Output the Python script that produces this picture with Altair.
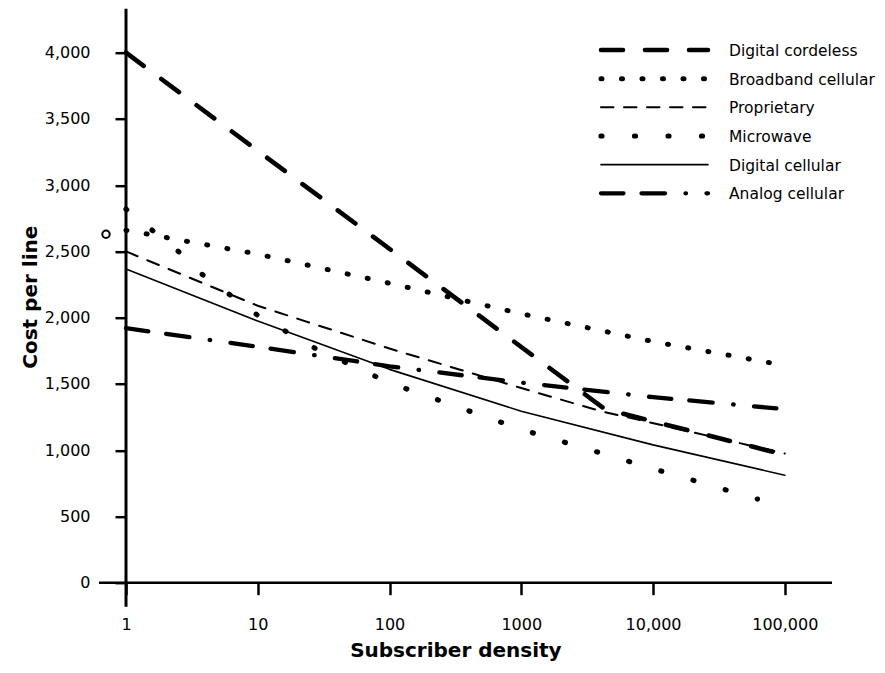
import altair as alt
import pandas as pd

FONT = "DejaVu Sans"

series_names = ["Digital cordeless", "Broadband cellular", "Proprietary",
                "Microwave", "Digital cellular", "Analog cellular"]

cordeless_density = [1, 4300, 100000]
cordeless_cost = [4000, 1310, 965]

broadband_density = [1, 10, 100, 1000, 10000, 100000]
broadband_cost = [2660, 2480, 2260, 2030, 1820, 1640]

proprietary_density = [1, 10, 100, 1000, 4000, 100000]
proprietary_cost = [2500, 2090, 1767, 1469, 1295, 975]

microwave_density = [1, 2.5, 3.75, 10, 27.5, 100, 1000, 10000, 62000]
microwave_cost = [2820, 2500, 2330, 2018, 1767, 1508, 1157, 861, 631]

digital_cell_density = [1, 10, 100, 1000, 10000, 100000]
digital_cell_cost = [2368, 1975, 1610, 1294, 1040, 811]

analog_density = [1, 10, 100, 1000, 10000, 100000]
analog_cost = [1921, 1781, 1633, 1510, 1400, 1310]

stray_marker_density = [0.705]
stray_marker_cost = [2630]

x_tick_values = [1, 10, 100, 1000, 10000, 100000]
x_tick_labels = ["1", "10", "100", "1000", "10,000", "100,000"]
y_tick_values = [0, 500, 1000, 1500, 2000, 2500, 3000, 3500, 4000]

series_data = {
    "Digital cordeless": (cordeless_density, cordeless_cost),
    "Broadband cellular": (broadband_density, broadband_cost),
    "Proprietary": (proprietary_density, proprietary_cost),
    "Microwave": (microwave_density, microwave_cost),
    "Digital cellular": (digital_cell_density, digital_cell_cost),
    "Analog cellular": (analog_density, analog_cost),
}

styles = {
    "Digital cordeless": dict(width=4.6, dash=[22, 22]),
    "Broadband cellular": dict(width=5.0, dash=[1, 19.5]),
    "Proprietary": dict(width=2.0, dash=[12.5, 10.5]),
    "Microwave": dict(width=5.2, dash=[1, 32.5]),
    "Digital cellular": dict(width=1.6, dash=None),
    "Analog cellular": dict(width=4.3, dash=[22.5, 18, 23.5, 20.5, 0.5, 20.5]),
}

W, H = 658.8, 530

label_expr = " : ".join(
    f"datum.value == {v} ? '{l}'" for v, l in zip(x_tick_values, x_tick_labels)
) + " : ''"

x_scale = alt.Scale(type="log", domain=[1, 100000], nice=False)
y_scale = alt.Scale(domain=[0, 4000], nice=False, zero=False)

x_axis = alt.Axis(values=x_tick_values, labelExpr=label_expr, title="Subscriber density",
                  grid=False, domain=False, tickSize=12, tickWidth=2.5, tickColor="black",
                  labelFont=FONT, labelFontSize=16, labelColor="black", labelPadding=22,
                  labelFlush=False, labelOverlap=False,
                  titleFont=FONT, titleFontSize=20, titleFontWeight=900, titleColor="black",
                  titleY=68, titleBaseline="middle")
y_axis = alt.Axis(values=y_tick_values, format=",d", title="Cost per line",
                  grid=False, domain=False, tickSize=11, tickWidth=2.5, tickColor="black",
                  labelFont=FONT, labelFontSize=16, labelColor="black", labelPadding=25,
                  labelFlush=False, labelOverlap=False,
                  titleFont=FONT, titleFontSize=20, titleFontWeight=900, titleColor="black",
                  titleAngle=270, titleX=-96, titleY=244, titleBaseline="middle",
                  titleAlign="center")

x_enc = alt.X("density:Q", scale=x_scale, axis=x_axis)
y_enc = alt.Y("cost:Q", scale=y_scale, axis=y_axis)

layers = []

# crossed axis lines
layers.append(alt.Chart(pd.DataFrame({"a": [0]})).mark_rule(color="black", strokeWidth=2.6).encode(
    x=alt.value(-27), x2=alt.value(706), y=alt.value(H)))
layers.append(alt.Chart(pd.DataFrame({"a": [0]})).mark_rule(color="black", strokeWidth=3).encode(
    x=alt.value(0), y=alt.value(-44), y2=alt.value(H + 24)))

for name in series_names:
    dens, cost = series_data[name]
    df = pd.DataFrame({"density": dens, "cost": cost, "series": name})
    st = styles[name]
    kw = dict(color="black", strokeWidth=st["width"], strokeCap="round", strokeJoin="round")
    if st["dash"] is not None:
        kw["strokeDash"] = st["dash"]
    layers.append(alt.Chart(df).mark_line(**kw).encode(x=x_enc, y=y_enc))

marker_df = pd.DataFrame({"density": stray_marker_density, "cost": stray_marker_cost})
layers.append(alt.Chart(marker_df).mark_point(shape="circle", filled=False, size=55,
                                              strokeWidth=2, color="black", opacity=1).encode(
    x=x_enc, y=y_enc))

# manual legend
row0, row_step = -2.7, 28.66
for i, name in enumerate(series_names):
    st = styles[name]
    ry = row0 + i * row_step
    ldf = pd.DataFrame({"name": [name]})
    kw = dict(color="black", strokeWidth=st["width"], strokeCap="round")
    if st["dash"] is not None:
        kw["strokeDash"] = st["dash"]
    layers.append(alt.Chart(ldf).mark_rule(**kw).encode(
        x=alt.value(475), x2=alt.value(582), y=alt.value(ry)))
    layers.append(alt.Chart(ldf).mark_text(align="left", baseline="middle", font=FONT,
                                           fontSize=15.5, color="black", dy=1).encode(
        x=alt.value(603), y=alt.value(ry), text="name:N"))

chart = alt.layer(*layers).properties(
    width=W, height=H,
    autosize=alt.AutoSizeParams(type="none"),
    padding={"left": 118, "top": 44.7, "right": 92, "bottom": 81},
    background="white",
).configure_view(stroke="transparent")

chart.save("out.html", embed_options={"renderer": "svg", "actions": False})
